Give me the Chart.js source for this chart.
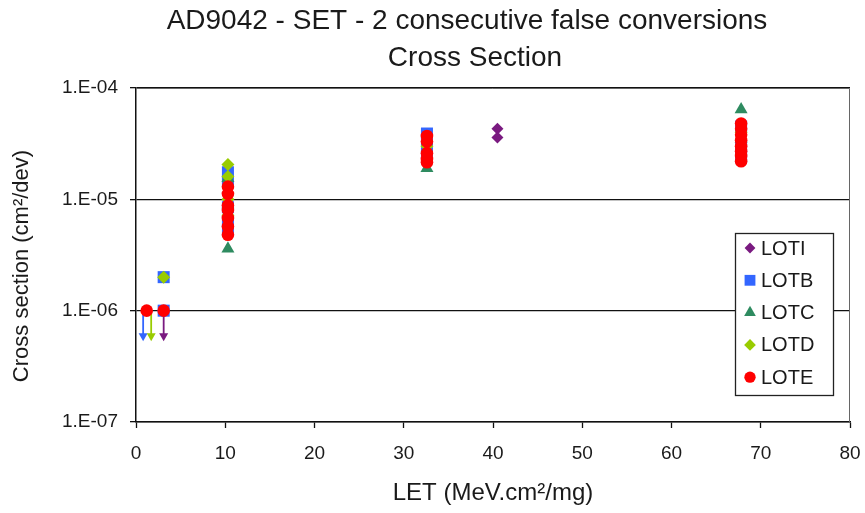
<!DOCTYPE html>
<html>
<head>
<meta charset="utf-8">
<script src="https://cdn.jsdelivr.net/npm/chart.js@4/dist/chart.umd.min.js"></script>
<style>
html,body{margin:0;padding:0;background:#fff;}
#wrap{width:865px;height:513px;position:relative;}
</style>
</head>
<body>
<div id="wrap"><canvas id="c" width="865" height="513"></canvas></div>
<script>
// ---- data ----
const titleLines = ['AD9042 - SET - 2 consecutive false conversions', 'Cross Section'];
const xTitle = 'LET (MeV.cm\u00B2/mg)';
const yTitle = 'Cross section (cm\u00B2/dev)';
const seriesNames = ['LOTI', 'LOTB', 'LOTC', 'LOTD', 'LOTE'];

const lotiLET = [3.1, 40.5, 40.5];
const lotiXS  = [1e-6, 4.3e-5, 3.6e-5];

const lotbLET = [3.1, 3.1, 10.3, 10.3, 10.3, 10.3, 10.3, 32.6, 32.6, 32.6, 67.8, 67.8, 67.8];
const lotbXS  = [1e-6, 2e-6, 1.75e-5, 1.45e-5, 8.5e-6, 6.3e-6, 5.3e-6, 3.9e-5, 3.4e-5, 2.6e-5, 4.5e-5, 3.0e-5, 2.4e-5];

const lotcLET = [10.3, 10.3, 10.3, 32.6, 67.8, 67.8];
const lotcXS  = [1.55e-5, 9e-6, 3.6e-6, 1.9e-5, 6.4e-5, 3.5e-5];

const lotdLET = [3.1, 10.3, 10.3, 10.3, 10.3, 32.6, 67.8];
const lotdXS  = [2e-6, 2.05e-5, 1.6e-5, 1.0e-5, 7.2e-6, 3.0e-5, 4.0e-5];

const loteLET = [1.2, 3.1, 10.3, 10.3, 10.3, 10.3, 10.3, 10.3, 10.3, 32.6, 32.6, 32.6, 32.6, 32.6, 67.8, 67.8, 67.8, 67.8, 67.8, 67.8, 67.8, 67.8];
const loteXS  = [1e-6, 1e-6, 1.3e-5, 1.12e-5, 8.8e-6, 8e-6, 6.8e-6, 5.7e-6, 4.8e-6, 3.7e-5, 3.3e-5, 2.6e-5, 2.3e-5, 2.15e-5, 4.8e-5, 4.3e-5, 3.8e-5, 3.4e-5, 3.0e-5, 2.7e-5, 2.45e-5, 2.2e-5];

// upper-limit arrows (no events): series, LET, from, to
const arrowSeries = ['LOTB', 'LOTD', 'LOTI'];
const arrowLET    = [0.8, 1.7, 3.1];
const arrowFrom   = [1e-6, 1e-6, 1e-6];
const arrowTo     = [5.3e-7, 5.3e-7, 5.3e-7];

const xTicks = [0, 10, 20, 30, 40, 50, 60, 70, 80];
const yTicks = [1e-7, 1e-6, 1e-5, 1e-4];
const yTickLabels = ['1.E-07', '1.E-06', '1.E-05', '1.E-04'];

// ---- styles ----
const FONT = "'Liberation Sans', Arial, sans-serif";
const TXT = '#1a1a1a';
const styles = {
  LOTI: {color: '#7a1a80', style: 'rectRot', r: 6},
  LOTB: {color: '#3366ff', style: 'rect', r: 8.5},
  LOTC: {color: '#2e8b60', style: 'triangle', r: 7.5},
  LOTD: {color: '#99cc00', style: 'rectRot', r: 6.5},
  LOTE: {color: '#ff0000', style: 'circle', r: 6.3}
};
const seriesData = {
  LOTI: [lotiLET, lotiXS], LOTB: [lotbLET, lotbXS], LOTC: [lotcLET, lotcXS],
  LOTD: [lotdLET, lotdXS], LOTE: [loteLET, loteXS]
};

const datasets = seriesNames.map((name, i) => {
  const [xs, ys] = seriesData[name];
  const s = styles[name];
  return {
    label: name,
    data: xs.map((x, k) => ({x: x, y: ys[k]})),
    showLine: false,
    pointStyle: s.style,
    pointRadius: s.r,
    pointHoverRadius: s.r,
    backgroundColor: s.color,
    borderColor: s.color,
    borderWidth: 0,
    order: seriesNames.length - i
  };
});

function drawMarker(ctx, style, x, y, r, color) {
  ctx.save();
  ctx.fillStyle = color;
  ctx.beginPath();
  if (style === 'circle') {
    ctx.arc(x, y, r, 0, Math.PI * 2);
  } else if (style === 'rect') {
    const s = r * Math.SQRT1_2;
    ctx.rect(x - s, y - s, 2 * s, 2 * s);
  } else if (style === 'rectRot') {
    ctx.moveTo(x, y - r); ctx.lineTo(x + r, y); ctx.lineTo(x, y + r); ctx.lineTo(x - r, y);
    ctx.closePath();
  } else if (style === 'triangle') {
    const w = r * Math.sqrt(3) / 2;
    ctx.moveTo(x, y - r); ctx.lineTo(x + w, y + r / 2); ctx.lineTo(x - w, y + r / 2);
    ctx.closePath();
  }
  ctx.fill();
  ctx.restore();
}

const titlePlugin = {
  id: 'bigTitle',
  afterDraw(chart) {
    const ctx = chart.ctx;
    ctx.save();
    ctx.fillStyle = TXT;
    ctx.font = '28px ' + FONT;
    ctx.textAlign = 'center';
    ctx.textBaseline = 'middle';
    ctx.fillText(titleLines[0], 467, 21);
    ctx.fillText(titleLines[1], 475, 58);
    // y-axis title (slightly below the plot centre, as in the reference)
    ctx.font = '22px ' + FONT;
    ctx.translate(22, 266);
    ctx.rotate(-Math.PI / 2);
    ctx.fillText(yTitle, 0, 0);
    ctx.restore();
  }
};

const arrowPlugin = {
  id: 'arrows',
  beforeDatasetsDraw(chart) {
    const ctx = chart.ctx, xs = chart.scales.x, ys = chart.scales.y;
    arrowSeries.forEach((name, i) => {
      const x = xs.getPixelForValue(arrowLET[i]);
      const y0 = ys.getPixelForValue(arrowFrom[i]);
      const y1 = ys.getPixelForValue(arrowTo[i]);
      const c = styles[name].color;
      ctx.save();
      ctx.strokeStyle = c; ctx.fillStyle = c; ctx.lineWidth = 1.8;
      ctx.beginPath(); ctx.moveTo(x, y0); ctx.lineTo(x, y1 - 6); ctx.stroke();
      ctx.beginPath(); ctx.moveTo(x - 4.5, y1 - 8); ctx.lineTo(x + 4.5, y1 - 8); ctx.lineTo(x, y1); ctx.closePath(); ctx.fill();
      ctx.restore();
    });
  }
};

const framePlugin = {
  id: 'frame',
  beforeDatasetsDraw(chart) {
    const a = chart.chartArea, ctx = chart.ctx;
    ctx.save();
    ctx.strokeStyle = '#666'; ctx.lineWidth = 1;
    ctx.beginPath();
    ctx.moveTo(a.left, a.top + 0.5); ctx.lineTo(a.right - 0.5, a.top + 0.5); ctx.lineTo(a.right - 0.5, a.bottom);
    ctx.stroke();
    ctx.restore();
  }
};

const legendPlugin = {
  id: 'boxLegend',
  afterDatasetsDraw(chart) {
    const ctx = chart.ctx;
    const L = 735, T = 233, W = 98, H = 162;
    ctx.save();
    ctx.fillStyle = '#fff';
    ctx.fillRect(L, T, W, H);
    ctx.strokeStyle = '#222'; ctx.lineWidth = 1.3;
    ctx.strokeRect(L + 0.5, T + 0.5, W, H);
    ctx.font = '20px ' + FONT;
    ctx.textBaseline = 'middle';
    chart.data.datasets.forEach((ds, i) => {
      const y = T + 15 + i * 32.3;
      const s = styles[ds.label];
      drawMarker(ctx, s.style, L + 15, y, s.r * 0.9, s.color);
      ctx.fillStyle = TXT;
      ctx.fillText(ds.label, L + 26, y + 1);
    });
    ctx.restore();
  }
};

new Chart(document.getElementById('c'), {
  type: 'scatter',
  data: {datasets: datasets},
  options: {
    responsive: false,
    animation: false,
    events: [],
    layout: {padding: {top: 88, right: 0, bottom: 0, left: 0}},
    plugins: {
      legend: {display: false},
      tooltip: {enabled: false},
      title: {display: false}
    },
    scales: {
      x: {
        type: 'linear',
        min: 0, max: 80,
        afterBuildTicks: s => { s.ticks = xTicks.map(v => ({value: v})); },
        afterFit: s => { s.height = 91; s.paddingRight = 15; s.paddingLeft = 0; },
        ticks: {color: TXT, font: {family: FONT, size: 19}, padding: 14, maxRotation: 0},
        grid: {drawOnChartArea: false, drawTicks: true, tickLength: 6, color: '#111', tickWidth: 1.3},
        border: {display: true, color: '#111', width: 1.5},
        title: {display: true, text: xTitle, color: TXT, font: {family: FONT, size: 24}, padding: {top: 0, bottom: 5}}
      },
      y: {
        type: 'logarithmic',
        min: 1e-7, max: 1e-4,
        afterBuildTicks: s => { s.ticks = yTicks.map(v => ({value: v})); },
        afterFit: s => { s.width = 136; },
        ticks: {
          color: TXT, font: {family: FONT, size: 19}, padding: 12,
          callback: (v, i) => yTickLabels[i]
        },
        grid: {drawOnChartArea: true, drawTicks: true, tickLength: 6, color: '#111', lineWidth: 1.3, tickWidth: 1.3},
        border: {display: true, color: '#111', width: 1.5},
        title: {display: false}
      }
    }
  },
  plugins: [framePlugin, arrowPlugin, legendPlugin, titlePlugin]
});
</script>
</body>
</html>
